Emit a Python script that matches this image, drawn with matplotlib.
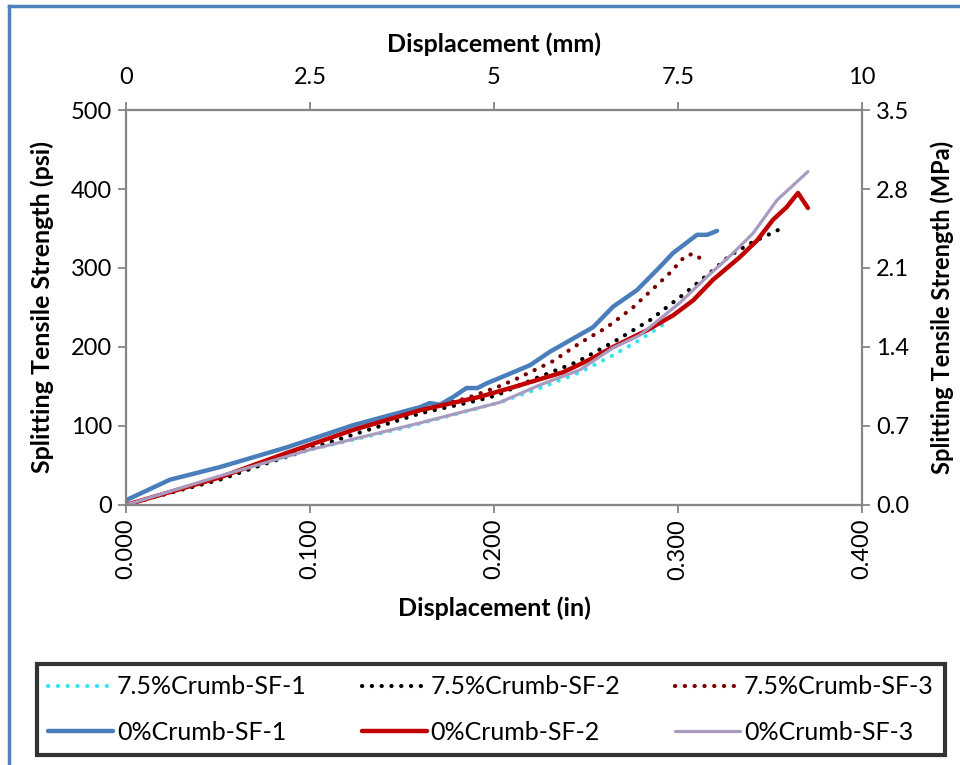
import matplotlib
matplotlib.use('Agg')
import matplotlib.pyplot as plt
from matplotlib.lines import Line2D
import numpy as np

plt.rcParams['font.family'] = ['Lato', 'DejaVu Sans']

cr75_1_x = [0, 0.05, 0.10, 0.15, 0.2033, 0.225, 0.2467, 0.265, 0.2793, 0.2957]
cr75_1_y = [0, 33, 70, 97, 130, 148, 168, 190, 209, 234]

cr75_2_x = [0, 0.002, 0.025, 0.0511, 0.0766, 0.1, 0.1234, 0.16, 0.1924, 0.2016,
            0.2234, 0.245, 0.2647, 0.2848, 0.3027, 0.319, 0.3283, 0.34, 0.3543]
cr75_2_y = [0, 2, 16, 32, 53, 71, 89, 116, 133, 139,
            161, 181, 206, 234, 266, 297, 316, 332, 348]

cr75_3_x = [0, 0.05, 0.09, 0.1234, 0.16, 0.185, 0.2016, 0.2125, 0.232, 0.2467,
            0.2614, 0.275, 0.2875, 0.2957, 0.3038, 0.3082, 0.3136]
cr75_3_y = [0, 33, 66, 95, 121, 135, 149, 160, 182, 205,
            225, 249, 276, 294, 315, 318, 310]

cr0_1_x = [0, 0.0239, 0.0511, 0.0875, 0.1234, 0.16, 0.165, 0.1707, 0.178, 0.185,
           0.191, 0.196, 0.2033, 0.2196, 0.2304, 0.2538, 0.2647, 0.2777, 0.29,
           0.2973, 0.3103, 0.3158, 0.3212]
cr0_1_y = [6, 32, 48, 73, 101, 124, 129, 127, 137, 148,
           148, 154, 161, 177, 194, 225, 251, 272, 301,
           319, 342, 342, 347]

cr0_2_x = [0, 0.0511, 0.0875, 0.1234, 0.16, 0.1924, 0.2103, 0.2375, 0.252, 0.2647,
           0.283, 0.2973, 0.3082, 0.319, 0.3337, 0.343, 0.3516, 0.359, 0.3652, 0.3706]
cr0_2_y = [0, 35, 66, 95, 120, 137, 149, 168, 184, 200,
           221, 240, 259, 285, 314, 335, 361, 377, 395, 376]

cr0_3_x = [0, 0.05, 0.1, 0.16, 0.2033, 0.225, 0.2467, 0.2647, 0.2793, 0.301,
           0.3158, 0.33, 0.3408, 0.3538, 0.3706]
cr0_3_y = [0, 36, 70, 104, 130, 152, 171, 199, 215, 256,
           289, 319, 344, 386, 422]

labels = ['7.5%Crumb-SF-1', '7.5%Crumb-SF-2', '7.5%Crumb-SF-3',
          '0%Crumb-SF-1', '0%Crumb-SF-2', '0%Crumb-SF-3']

x_ticks_in = [0.0, 0.1, 0.2, 0.3, 0.4]
x_ticks_mm = [0, 2.5, 5, 7.5, 10]
y_ticks_psi = [0, 100, 200, 300, 400, 500]
y_ticks_mpa = [0.0, 0.7, 1.4, 2.1, 2.8, 3.5]

fig = plt.figure(figsize=(9.6, 7.65), dpi=100)
ax = fig.add_axes([0.13125, 0.3399, 0.7667, 0.5163])

dot = (0, (0.05, 2.3))
h1, = ax.plot(cr75_1_x, cr75_1_y, color='#33E5F0', lw=3.0, ls=dot, dash_capstyle='round')
h2, = ax.plot(cr75_2_x, cr75_2_y, color='black', lw=3.0, ls=dot, dash_capstyle='round')
h3, = ax.plot(cr75_3_x, cr75_3_y, color='#7A0000', lw=3.0, ls=dot, dash_capstyle='round')
h4, = ax.plot(cr0_1_x, cr0_1_y, color='#4A7EBB', lw=3.2, solid_capstyle='round')
h5, = ax.plot(cr0_2_x, cr0_2_y, color='#C00000', lw=3.2, solid_capstyle='round')
h6, = ax.plot(cr0_3_x, cr0_3_y, color='#A99BC0', lw=2.3, solid_capstyle='round')

grey = '#868686'
fs = 17
lfs = 18

ax.set_xlim(0, 0.4)
ax.set_ylim(0, 500)
ax.set_xticks(x_ticks_in)
ax.set_xticklabels([f'{v:.3f}' for v in x_ticks_in], rotation=90)
ax.set_yticks(y_ticks_psi)
ax.tick_params(axis='both', direction='out', length=6, width=1.3, color=grey, labelsize=fs, pad=4)
for s in ax.spines.values():
    s.set_color(grey)
    s.set_linewidth(1.5)
ax.set_xlabel('Displacement (in)', fontsize=lfs, fontweight='bold', labelpad=12)
ax.set_ylabel('Splitting Tensile Strength (psi)', fontsize=lfs, fontweight='bold', labelpad=12)

axt = ax.twiny()
axt.set_xlim(0, 10)
axt.set_xticks(x_ticks_mm)
axt.set_xticklabels(['0', '2.5', '5', '7.5', '10'])
axt.tick_params(axis='x', direction='out', length=6, width=1.3, color=grey, labelsize=fs, pad=10)
axt.set_xlabel('Displacement (mm)', fontsize=lfs, fontweight='bold', labelpad=11)

axr = ax.twinx()
axr.set_ylim(0, 3.5)
axr.set_yticks(y_ticks_mpa)
axr.set_yticklabels([f'{v:.1f}' for v in y_ticks_mpa])
axr.tick_params(axis='y', direction='out', length=6, width=1.3, color=grey, labelsize=fs, pad=4)
axr.set_ylabel('Splitting Tensile Strength (MPa)', fontsize=17, fontweight='bold', labelpad=15)
for a in (axt, axr):
    for s in a.spines.values():
        s.set_color(grey)
        s.set_linewidth(1.5)

# legend: matplotlib fills column by column
handles = [h1, h4, h2, h5, h3, h6]
leg_labels = [labels[0], labels[3], labels[1], labels[4], labels[2], labels[5]]
leg = fig.legend(handles, leg_labels, ncol=3, loc='lower left',
                 bbox_to_anchor=(0.0385, 0.013, 0.946, 0.12), mode='expand',
                 fontsize=lfs, frameon=True, fancybox=False, handlelength=2.6,
                 handletextpad=0.15, borderaxespad=0, labelspacing=0.9,
                 borderpad=0.45)
leg.get_frame().set_edgecolor('black')
leg.get_frame().set_linewidth(3)

# blue outer border (left and top edges)
fig.add_artist(Line2D([0.0095, 0.0095], [0, 0.992], transform=fig.transFigure,
                      color='#4F81BD', lw=2.5))
fig.add_artist(Line2D([0.0095, 1.0], [0.992, 0.992], transform=fig.transFigure,
                      color='#4F81BD', lw=2.5))

fig.savefig('out.png', dpi=100)
